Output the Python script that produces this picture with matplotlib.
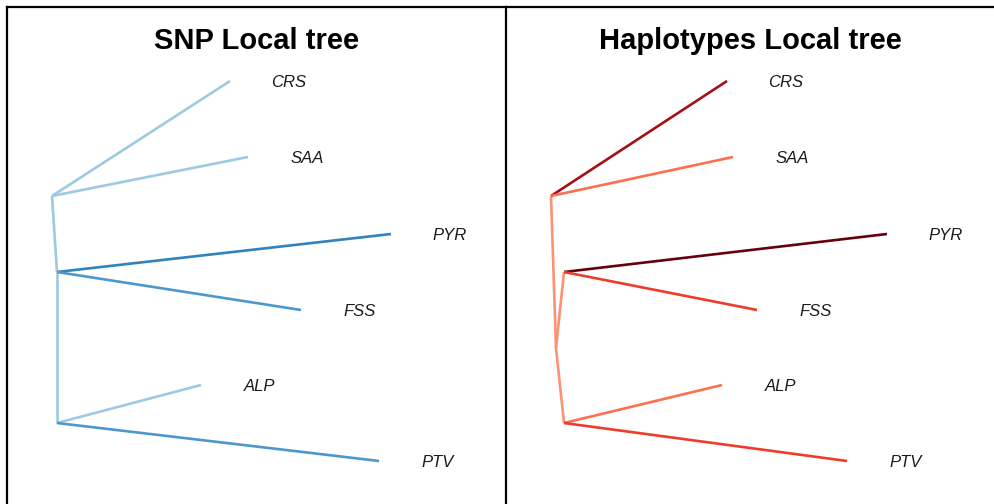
import matplotlib
matplotlib.use("Agg")
import matplotlib.pyplot as plt

plt.rcParams["font.family"] = ["Liberation Sans", "DejaVu Sans"]

# tip labels, shared by both trees
tips = ["CRS", "SAA", "PYR", "FSS", "ALP", "PTV"]

# SNP tree: layout positions (panel units, y grows downward)
snp_nodes = {"A": (45, 189), "B": (50, 265), "C": (50, 416)}
snp_tip_x = [223, 241, 384, 294, 194, 372]
snp_tip_y = [74, 150, 227, 303, 378, 454]
snp_parent = ["A", "A", "B", "B", "C", "C"]
snp_inner = [("A", "B"), ("B", "C")]
snp_tip_col = ["#9ecae1", "#9ecae1", "#3182bd", "#4a98cd", "#9ecae1", "#4a98cd"]
snp_inner_col = ["#9ecae1", "#9ecae1"]

# Haplotype tree
hap_nodes = {"A": (45, 189), "D": (50, 341), "B": (58, 265), "C": (58, 416)}
hap_tip_x = [221, 227, 381, 251, 216, 341]
hap_tip_y = [74, 150, 227, 303, 378, 454]
hap_parent = ["A", "A", "B", "B", "C", "C"]
hap_inner = [("A", "D"), ("D", "B"), ("D", "C")]
hap_tip_col = ["#a50f15", "#fc7050", "#67000d", "#ef3b2c", "#fc7050", "#ef3b2c"]
hap_inner_col = ["#fc9272", "#fc9272", "#fc9272"]

label_dx = 59


def draw_tree(ax, title, nodes, tip_x, tip_y, parent, inner, tip_col, inner_col):
    for (a, b), c in zip(inner, inner_col):
        ax.plot([nodes[a][0], nodes[b][0]], [nodes[a][1], nodes[b][1]],
                color=c, lw=1.9, solid_capstyle="butt")
    for x, y, p, c in zip(tip_x, tip_y, parent, tip_col):
        ax.plot([nodes[p][0], x], [nodes[p][1], y], color=c, lw=1.9,
                solid_capstyle="butt")
    for x, y, t in zip(tip_x, tip_y, tips):
        ax.text(x + label_dx, y + 1.5, t, ha="center", va="center",
                fontsize=12, style="italic", color="#1a1a1a")
    ax.set_title(title, fontsize=21, fontweight="bold", y=1, pad=0)
    ax.title.set_position((0.5, 1 - 42 / 497))
    ax.set_xlim(0, ax.get_position().width * 995)
    ax.set_ylim(497, 0)
    ax.set_xticks([])
    ax.set_yticks([])
    for s in ["right", "bottom"]:
        ax.spines[s].set_visible(False)
    for s in ["left", "top"]:
        ax.spines[s].set_linewidth(1.6)


fig = plt.figure(figsize=(9.95, 5.04), dpi=100)
ax1 = fig.add_axes([7 / 995, 0, 499 / 995, 497 / 504])
ax2 = fig.add_axes([506 / 995, 0, 489 / 995, 497 / 504])

draw_tree(ax1, "SNP Local tree", snp_nodes, snp_tip_x, snp_tip_y,
          snp_parent, snp_inner, snp_tip_col, snp_inner_col)
draw_tree(ax2, "Haplotypes Local tree", hap_nodes, hap_tip_x, hap_tip_y,
          hap_parent, hap_inner, hap_tip_col, hap_inner_col)

fig.savefig("out.png", dpi=100)
